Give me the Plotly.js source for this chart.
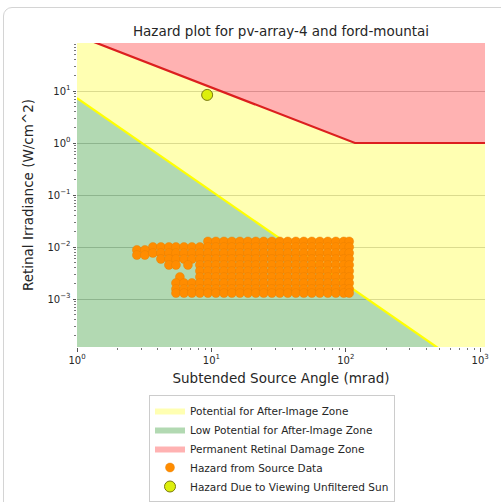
<!DOCTYPE html>
<html>
<head>
<meta charset="utf-8">
<script src="https://cdn.plot.ly/plotly-3.0.1.min.js"></script>
<style>
html,body{margin:0;padding:0;background:#fff;overflow:hidden;width:501px;height:502px;}
#frame{position:absolute;left:3px;top:7px;width:640px;height:640px;border:1px solid #d4d4d4;border-radius:9px;}
#chart{position:absolute;left:0;top:0;width:501px;height:502px;}
</style>
</head>
<body>
<div id="frame"></div>
<div id="chart"></div>
<script>
// ---- tick labels ----
const xTickVals = [1, 10, 100, 1000];
const xTickText = ['10<sup>0</sup>', '10<sup>1</sup>', '10<sup>2</sup>', '10<sup>3</sup>'];
const yTickVals = [0.001, 0.01, 0.1, 1, 10];
const yTickText = ['10<sup>−3</sup>', '10<sup>−2</sup>', '10<sup>−1</sup>', '10<sup>0</sup>', '10<sup>1</sup>'];

// ---- zone boundaries ----
const damageX = [1, 117, 1100];      // permanent retinal damage threshold
const damageY = [117, 1, 1];
const afterX = [1, 524];             // after-image threshold
const afterY = [7.3, 1e-4];
const extentX = [1, 1100];           // zone extents
const extentY = [1e-4, 117];

// ---- hazard from viewing unfiltered sun ----
const sunX = [9.3];
const sunY = [8.4];

// ---- hazard from source data (cloud, read row by row) ----
const srcMainX = [9.42, 10.8, 12.4, 14.2, 16.3, 18.7, 21.4, 24.5, 28.2, 32.3, 37.0, 42.5, 48.7, 55.9, 64.1, 73.5, 84.3, 96.6, 106];
const srcRowY = [0.0128, 0.0100, 0.0088, 0.0070, 0.00767, 0.00588, 0.00451, 0.00345, 0.00265, 0.00203, 0.00156, 0.00130];
const srcRowX = [
  [].concat(srcMainX),
  [3.67, 4.21, 4.83, 5.45, 6.25, 7.16, 8.21].concat(srcMainX),
  [2.79, 3.20],
  [2.79, 3.20],
  [3.67, 4.21, 4.83, 5.45, 6.25, 7.16, 8.21].concat(srcMainX),
  [4.21, 4.83, 5.45, 6.25, 7.16, 8.21].concat(srcMainX),
  [4.83, 5.45, 6.69, 8.21].concat(srcMainX),
  [8.21].concat(srcMainX),
  [5.83, 8.21].concat(srcMainX),
  [5.45, 6.25, 7.16, 8.21].concat(srcMainX),
  [5.45, 6.25, 7.16, 8.21].concat(srcMainX),
  [5.45, 6.25, 7.16, 8.21].concat(srcMainX)
];
const srcX = [], srcY = [];
srcRowX.forEach((row, i) => row.forEach(x => { srcX.push(x); srcY.push(srcRowY[i]); }));

// ---- zone polygons built from the boundaries ----
const greenX = [afterX[0], afterX[1], extentX[0]];
const greenY = [afterY[0], afterY[1], extentY[0]];
const yellowX = [afterX[0], afterX[1], extentX[1], damageX[2], damageX[1], damageX[0]];
const yellowY = [afterY[0], afterY[1], extentY[0], damageY[2], damageY[1], damageY[0]];
const redX = [damageX[0], damageX[1], damageX[2], extentX[1]];
const redY = [damageY[0], damageY[1], damageY[2], extentY[1]];

const FONT = 'DejaVu Sans, sans-serif';
const TXT = '#262626';

const traces = [
  {x: yellowX, y: yellowY, type: 'scatter', mode: 'lines', fill: 'toself',
   fillcolor: 'rgba(255,255,0,0.3)', line: {width: 0, color: 'rgba(255,255,0,0.3)'},
   name: 'Potential for After-Image Zone', hoverinfo: 'skip'},
  {x: greenX, y: greenY, type: 'scatter', mode: 'lines', fill: 'toself',
   fillcolor: 'rgba(0,128,0,0.3)', line: {width: 0, color: 'rgba(0,128,0,0.3)'},
   name: 'Low Potential for After-Image Zone', hoverinfo: 'skip'},
  {x: redX, y: redY, type: 'scatter', mode: 'lines', fill: 'toself',
   fillcolor: 'rgba(255,0,0,0.3)', line: {width: 0, color: 'rgba(255,0,0,0.3)'},
   name: 'Permanent Retinal Damage Zone', hoverinfo: 'skip'},
  {x: afterX, y: afterY, type: 'scatter', mode: 'lines',
   line: {color: '#ffff00', width: 2.2}, showlegend: false, hoverinfo: 'skip'},
  {x: damageX, y: damageY, type: 'scatter', mode: 'lines',
   line: {color: '#dc1f1f', width: 2.2}, showlegend: false, hoverinfo: 'skip'},
  {x: srcX, y: srcY, type: 'scatter', mode: 'markers',
   marker: {color: '#ff8c00', size: 9, line: {width: 0.4, color: '#e67e00'}},
   name: 'Hazard from Source Data'},
  {x: sunX, y: sunY, type: 'scatter', mode: 'markers',
   marker: {color: '#dcef0c', size: 11, line: {width: 1, color: '#7a7a10'}},
   name: 'Hazard Due to Viewing Unfiltered Sun'}
];

function minorVals(d0, d1) {
  const v = [];
  for (let d = d0; d <= d1; d++) for (let k = 2; k <= 9; k++) v.push(k * Math.pow(10, d));
  return v;
}

const layout = {
  width: 501, height: 502,
  margin: {l: 77, r: 16, t: 43, b: 155, autoexpand: false},
  paper_bgcolor: 'rgba(0,0,0,0)',
  plot_bgcolor: 'rgba(0,0,0,0)',
  font: {family: FONT, color: TXT, size: 11},
  title: {text: 'Hazard plot for pv-array-4 and ford-mountai', font: {family: FONT, size: 13.5, color: TXT},
          x: 0.5, xref: 'paper', xanchor: 'center', y: 1 - 31/502, yref: 'container', yanchor: 'middle'},
  xaxis: {type: 'log', range: [0, 3.036], showgrid: false, zeroline: false, showline: false,
          tickmode: 'array', tickvals: xTickVals, ticktext: xTickText,
          ticks: 'outside', ticklen: 3.5, tickwidth: 1, tickcolor: '#555',
          tickfont: {family: FONT, size: 10, color: TXT},
          minor: {tickmode: 'array', tickvals: minorVals(0, 2), ticks: 'outside', ticklen: 2, tickcolor: '#777', showgrid: false},
          title: {text: 'Subtended Source Angle (mrad)', font: {family: FONT, size: 13.5, color: TXT}, standoff: 9},
          automargin: false},
  yaxis: {type: 'log', range: [-3.923, 1.923], showgrid: true, gridcolor: 'rgba(110,110,110,0.35)', gridwidth: 1,
          zeroline: false, showline: false,
          tickmode: 'array', tickvals: yTickVals, ticktext: yTickText,
          ticks: 'outside', ticklen: 3.5, tickwidth: 1, tickcolor: '#555',
          tickfont: {family: FONT, size: 10, color: TXT},
          minor: {tickmode: 'array', tickvals: minorVals(-4, 1), ticks: 'outside', ticklen: 2, tickcolor: '#777', showgrid: false},
          title: {text: 'Retinal Irradiance (W/cm^2)', font: {family: FONT, size: 13.5, color: TXT}, standoff: 10},
          automargin: false},
  legend: {x: (149-77)/408, xanchor: 'left', y: (347-395)/304, yanchor: 'top',
           bgcolor: 'rgba(255,255,255,0.9)', bordercolor: '#cccccc', borderwidth: 1,
           font: {family: FONT, size: 10.5, color: TXT}, tracegroupgap: 0},
  showlegend: true
};

Plotly.newPlot('chart', traces, layout, {displayModeBar: false, staticPlot: true});
</script>
</body>
</html>
